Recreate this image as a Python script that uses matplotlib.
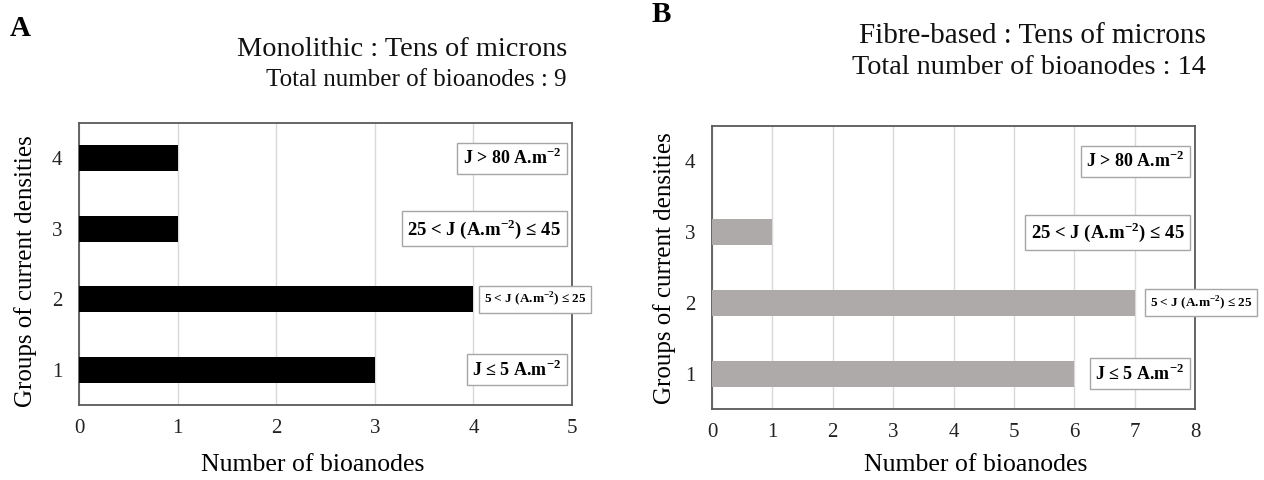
import numpy as np
import matplotlib
matplotlib.use('Agg')
import matplotlib.pyplot as plt

plt.rcParams['font.family'] = ['Liberation Serif', 'DejaVu Serif']
plt.rcParams['mathtext.fontset'] = 'custom'
plt.rcParams['mathtext.rm'] = 'Liberation Serif'
plt.rcParams['mathtext.bf'] = 'Liberation Serif:bold'

# data
groups = [1, 2, 3, 4]
mono_counts = [3, 4, 1, 1]
fibre_counts = [6, 7, 1, 0]
range_labels = ['J ≤ 5 A.m$^{\\mathbf{-2}}$',
                '5 < J (A.m$^{\\mathbf{-2}}$) ≤ 25',
                '25 < J (A.m$^{\\mathbf{-2}}$) ≤ 45',
                'J > 80 A.m$^{\\mathbf{-2}}$']
label_sizes = [13, 9.5, 13.5, 13]
mono_xticks = [0, 1, 2, 3, 4, 5]
fibre_xticks = [0, 1, 2, 3, 4, 5, 6, 7, 8]

W, H = 1264, 480
fig = plt.figure(figsize=(W / 100, H / 100), dpi=100)


def px(x, y):
    return x / W, 1 - y / H


def make_panel(rect, counts, color, xticks, box_right, box2_center):
    ax = fig.add_axes(rect)
    ax.barh(groups, counts, height=0.37, color=color, zorder=3)
    ax.set_xlim(xticks[0], xticks[-1])
    ax.set_ylim(0.5, 4.5)
    ax.set_xticks(xticks)
    ax.set_yticks(groups)
    ax.tick_params(length=0, labelsize=15, colors='#222222')
    ax.tick_params(axis='x', pad=10)
    ax.tick_params(axis='y', pad=12)
    ax.grid(axis='x', color='#d9d9d9', linewidth=1, zorder=0)
    for s in ax.spines.values():
        s.set_color('#595959')
        s.set_linewidth(1.3)
    tr = ax.get_yaxis_transform()
    for g, lab, fs in zip(groups, range_labels, label_sizes):
        if g == 2:
            ax.text(box2_center, g, lab, transform=tr, ha='center', va='center',
                    fontsize=fs, fontweight='bold', zorder=5, clip_on=False,
                    bbox=dict(boxstyle='square,pad=0.35', fc='white', ec='#a6a6a6', lw=1))
        else:
            ax.text(box_right, g, lab, transform=tr, ha='right', va='center',
                    fontsize=fs, fontweight='bold', zorder=5,
                    bbox=dict(boxstyle='square,pad=0.3', fc='white', ec='#a6a6a6', lw=1))
    return ax


axA = make_panel([79 / W, 1 - 405 / H, 493 / W, 282 / H], mono_counts, 'black',
                 mono_xticks, 0.978, 0.925)
axB = make_panel([712 / W, 1 - 409 / H, 483 / W, 283 / H], fibre_counts, '#aeaaaa',
                 fibre_xticks, 0.978, 1.012)

# panel letters
fig.text(*px(10, 28), 'A', fontsize=21, fontweight='bold', va='center', ha='left')
fig.text(*px(652, 15), 'B', fontsize=21, fontweight='bold', va='center', ha='left')

# titles
fig.text(*px(567, 56), 'Monolithic : Tens of microns', fontsize=20.4, ha='right', va='baseline', color='#111111')
fig.text(*px(567, 86), 'Total number of bioanodes : 9', fontsize=18, ha='right', va='baseline', color='#111111')
fig.text(*px(1206, 43), 'Fibre-based : Tens of microns', fontsize=21, ha='right', va='baseline', color='#111111')
fig.text(*px(1206, 74), 'Total number of bioanodes : 14', fontsize=20.3, ha='right', va='baseline', color='#111111')

# axis labels
fig.text(*px(313, 465), 'Number of bioanodes', fontsize=18.5, ha='center', va='center')
fig.text(*px(976, 465), 'Number of bioanodes', fontsize=18.5, ha='center', va='center')
fig.text(*px(26, 271), 'Groups of current densities', fontsize=18, ha='center', va='center', rotation=90)
fig.text(*px(665, 268), 'Groups of current densities', fontsize=18, ha='center', va='center', rotation=90)

fig.savefig('out.png', dpi=100)
